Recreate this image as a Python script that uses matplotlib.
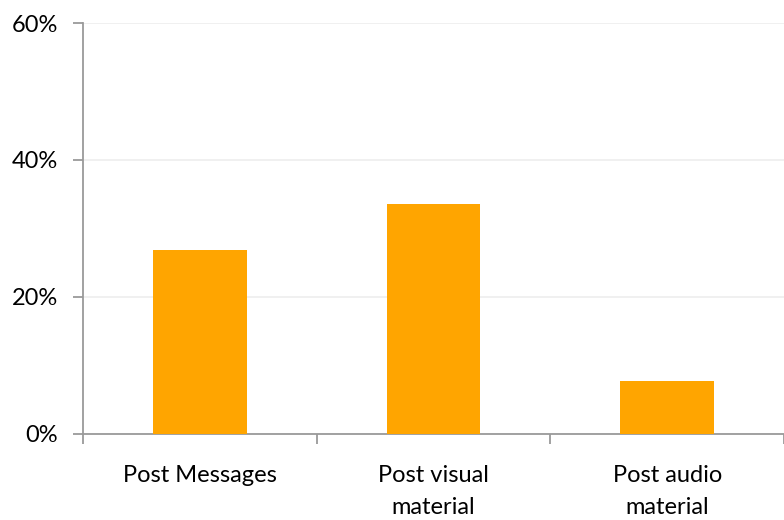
import matplotlib.pyplot as plt
from matplotlib.ticker import FuncFormatter, FixedLocator

plt.rcParams['font.family'] = ['Lato', 'DejaVu Sans']

# Share of users who post each kind of content
categories = ['Post Messages', 'Post visual\nmaterial', 'Post audio\nmaterial']
shares = [26.8, 33.6, 7.7]
yticks = [0, 20, 40, 60]

fig = plt.figure(figsize=(7.84, 5.2), dpi=100)
ax = fig.add_axes([83 / 784, 1 - 433.5 / 520, 1 - 83 / 784, (433.5 - 23) / 520])

x = list(range(len(categories)))
ax.bar(x, shares, width=0.4, color='#FFA500', zorder=3)

ax.set_xlim(-0.5, len(categories) - 0.5)
ax.set_ylim(0, 60)

ax.set_yticks(yticks)
ax.yaxis.set_major_formatter(FuncFormatter(lambda v, p: f'{v:.0f}%'))
ax.grid(axis='y', color='#EEEEEE', linewidth=1.2, zorder=0)

ax.set_xticks(x)
ax.set_xticklabels(categories, linespacing=1.62)
ax.xaxis.set_minor_locator(FixedLocator([i - 0.5 for i in range(len(categories) + 1)]))

axis_grey = '#9A9A9A'
for side in ['top', 'right']:
    ax.spines[side].set_visible(False)
for side in ['left', 'bottom']:
    ax.spines[side].set_color(axis_grey)
    ax.spines[side].set_linewidth(1.3)

ax.tick_params(axis='y', length=7, width=1.3, color=axis_grey, labelsize=17, pad=11)
ax.tick_params(axis='x', which='major', length=0, labelsize=17, pad=23)
ax.tick_params(axis='x', which='minor', length=7, width=1.3, color=axis_grey)

fig.savefig('out.png', dpi=100)
